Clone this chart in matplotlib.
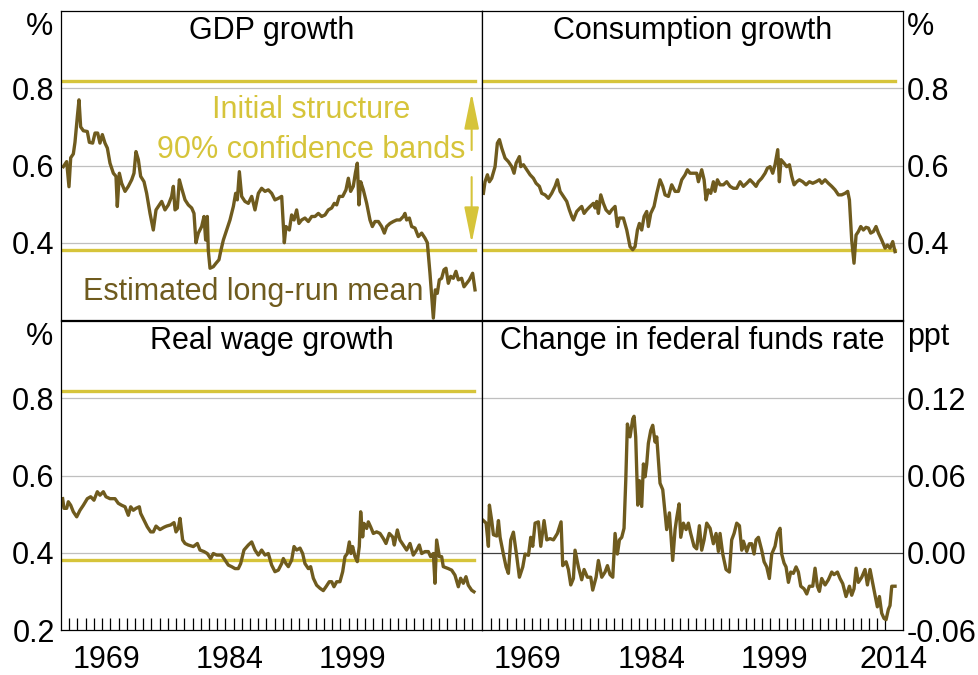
import numpy as np
import matplotlib
matplotlib.use("Agg")
import matplotlib.pyplot as plt

plt.rcParams['font.family'] = ['Liberation Sans', 'DejaVu Sans']

LINE = '#6f5b1e'
YELLOW = '#d6c43a'
GRID = '#bfbfbf'
FS = 22

# (year, value) readings of each series
gdp = [(1964.28,0.597),(1964.69,0.61),(1964.97,0.545),(1965.18,0.62),(1965.50,0.63),(1965.70,0.66),(1965.99,0.727),(1966.19,0.77),(1966.39,0.70),(1966.72,0.69),(1967.20,0.688),(1967.45,0.66),(1967.85,0.658),(1968.14,0.684),(1968.46,0.684),(1968.74,0.658),(1969.03,0.68),(1969.35,0.658),(1969.64,0.645),(1969.96,0.606),(1970.37,0.58),(1970.69,0.572),(1970.85,0.494),(1971.10,0.58),(1971.38,0.554),(1971.79,0.533),(1972.19,0.546),(1972.60,0.563),(1972.88,0.58),(1973.12,0.636),(1973.41,0.615),(1973.69,0.572),(1974.10,0.558),(1974.42,0.528),(1974.83,0.476),(1975.23,0.433),(1975.56,0.485),(1975.84,0.494),(1976.25,0.507),(1976.65,0.485),(1977.06,0.498),(1977.46,0.52),(1977.67,0.546),(1977.87,0.485),(1978.15,0.49),(1978.40,0.563),(1978.68,0.541),(1979.09,0.511),(1979.49,0.498),(1979.90,0.49),(1980.18,0.476),(1980.42,0.40),(1980.71,0.425),(1981.11,0.442),(1981.40,0.468),(1981.60,0.407),(1981.80,0.468),(1981.92,0.38),(1982.13,0.334),(1982.53,0.338),(1982.86,0.347),(1983.22,0.356),(1983.42,0.377),(1983.75,0.407),(1984.15,0.433),(1984.56,0.459),(1984.97,0.494),(1985.25,0.528),(1985.45,0.511),(1985.70,0.584),(1985.98,0.52),(1986.38,0.507),(1986.79,0.502),(1987.20,0.52),(1987.60,0.485),(1988.01,0.528),(1988.41,0.541),(1988.82,0.533),(1989.22,0.537),(1989.63,0.528),(1990.03,0.511),(1990.44,0.515),(1990.85,0.52),(1991.17,0.40),(1991.37,0.442),(1991.78,0.433),(1992.06,0.472),(1992.35,0.459),(1992.67,0.485),(1992.95,0.45),(1993.28,0.459),(1993.68,0.464),(1994.09,0.455),(1994.50,0.468),(1994.90,0.468),(1995.31,0.476),(1995.71,0.468),(1996.12,0.472),(1996.52,0.485),(1996.93,0.49),(1997.25,0.502),(1997.54,0.498),(1997.86,0.52),(1998.27,0.52),(1998.67,0.537),(1998.96,0.567),(1999.24,0.533),(1999.56,0.546),(1999.81,0.58),(2000.05,0.606),(2000.25,0.498),(2000.46,0.558),(2000.78,0.537),(2001.19,0.502),(2001.59,0.459),(2001.88,0.442),(2002.20,0.455),(2002.61,0.455),(2003.01,0.442),(2003.34,0.425),(2003.62,0.442),(2004.02,0.45),(2004.43,0.455),(2004.84,0.459),(2005.24,0.459),(2005.65,0.468),(2005.85,0.476),(2006.05,0.459),(2006.38,0.464),(2006.66,0.442),(2007.07,0.438),(2007.47,0.416),(2007.88,0.425),(2008.28,0.412),(2008.57,0.40),(2008.89,0.321),(2009.30,0.205),(2009.54,0.278),(2009.78,0.269),(2010.03,0.304),(2010.31,0.308),(2010.59,0.33),(2010.84,0.334),(2011.12,0.295),(2011.41,0.313),(2011.73,0.308),(2012.05,0.326),(2012.34,0.304),(2012.74,0.308),(2013.03,0.286),(2013.35,0.295),(2013.68,0.304),(2014.08,0.321),(2014.37,0.278)]

consumption = [(1964.08,0.528),(1964.28,0.558),(1964.57,0.576),(1964.81,0.558),(1965.09,0.567),(1965.50,0.597),(1965.78,0.658),(1966.03,0.667),(1966.31,0.645),(1966.72,0.619),(1967.12,0.61),(1967.53,0.597),(1967.81,0.58),(1968.06,0.606),(1968.46,0.623),(1968.62,0.597),(1968.95,0.602),(1969.35,0.589),(1969.76,0.576),(1970.16,0.567),(1970.49,0.554),(1970.89,0.546),(1971.18,0.528),(1971.58,0.524),(1971.99,0.515),(1972.39,0.528),(1972.80,0.546),(1973.08,0.563),(1973.41,0.533),(1973.81,0.52),(1974.22,0.507),(1974.54,0.485),(1974.83,0.468),(1975.03,0.459),(1975.44,0.481),(1975.84,0.49),(1976.04,0.494),(1976.33,0.476),(1976.65,0.485),(1977.06,0.494),(1977.46,0.502),(1977.67,0.49),(1977.87,0.507),(1978.07,0.476),(1978.36,0.524),(1978.68,0.502),(1979.00,0.485),(1979.41,0.476),(1979.69,0.485),(1980.10,0.494),(1980.38,0.442),(1980.63,0.464),(1981.11,0.464),(1981.52,0.433),(1981.92,0.39),(1982.25,0.382),(1982.53,0.39),(1982.82,0.433),(1983.06,0.45),(1983.34,0.433),(1983.63,0.468),(1983.95,0.481),(1984.15,0.442),(1984.44,0.476),(1984.84,0.494),(1985.17,0.528),(1985.57,0.563),(1985.90,0.546),(1986.18,0.524),(1986.59,0.52),(1986.99,0.55),(1987.40,0.533),(1987.80,0.533),(1988.21,0.563),(1988.62,0.576),(1988.90,0.589),(1989.22,0.58),(1989.63,0.58),(1990.03,0.58),(1990.24,0.558),(1990.64,0.589),(1990.93,0.563),(1991.17,0.511),(1991.45,0.537),(1991.74,0.528),(1992.06,0.558),(1992.26,0.533),(1992.55,0.563),(1992.87,0.55),(1993.28,0.55),(1993.68,0.558),(1994.09,0.546),(1994.50,0.541),(1994.90,0.541),(1995.31,0.558),(1995.71,0.546),(1996.12,0.554),(1996.52,0.563),(1996.93,0.554),(1997.25,0.546),(1997.54,0.558),(1997.94,0.567),(1998.35,0.58),(1998.63,0.593),(1998.96,0.597),(1999.28,0.58),(1999.56,0.602),(1999.89,0.641),(2000.09,0.558),(2000.29,0.615),(2000.66,0.606),(2000.98,0.597),(2001.31,0.602),(2001.59,0.572),(2001.88,0.55),(2002.20,0.558),(2002.52,0.563),(2002.93,0.558),(2003.34,0.55),(2003.74,0.558),(2004.15,0.554),(2004.55,0.558),(2004.96,0.563),(2005.24,0.554),(2005.65,0.563),(2006.05,0.554),(2006.46,0.546),(2006.86,0.537),(2007.27,0.524),(2007.67,0.524),(2008.08,0.528),(2008.40,0.533),(2008.61,0.511),(2008.89,0.407),(2009.17,0.347),(2009.42,0.42),(2009.70,0.429),(2009.99,0.442),(2010.31,0.433),(2010.63,0.44),(2010.92,0.438),(2011.20,0.425),(2011.53,0.429),(2011.85,0.442),(2012.14,0.425),(2012.54,0.407),(2012.95,0.386),(2013.23,0.394),(2013.55,0.386),(2013.88,0.403),(2014.16,0.377)]

real_wage = [(1964.20,0.54),(1964.36,0.515),(1964.69,0.515),(1964.89,0.532),(1965.18,0.523),(1965.50,0.506),(1965.91,0.493),(1966.31,0.51),(1966.72,0.523),(1967.20,0.54),(1967.61,0.545),(1968.01,0.536),(1968.42,0.558),(1968.74,0.549),(1969.15,0.558),(1969.47,0.545),(1969.96,0.54),(1970.57,0.54),(1970.97,0.528),(1971.38,0.523),(1971.79,0.519),(1972.19,0.497),(1972.48,0.519),(1972.80,0.51),(1973.12,0.515),(1973.53,0.519),(1973.69,0.502),(1974.10,0.484),(1974.50,0.467),(1974.91,0.454),(1975.23,0.454),(1975.56,0.469),(1976.04,0.46),(1976.53,0.466),(1976.85,0.469),(1977.34,0.472),(1977.75,0.478),(1977.99,0.454),(1978.27,0.463),(1978.48,0.489),(1978.80,0.433),(1979.09,0.424),(1979.49,0.42),(1980.10,0.416),(1980.59,0.424),(1980.91,0.407),(1981.40,0.403),(1981.80,0.398),(1982.21,0.385),(1982.53,0.398),(1982.94,0.394),(1983.55,0.394),(1983.95,0.381),(1984.36,0.368),(1984.76,0.364),(1985.17,0.359),(1985.57,0.359),(1985.86,0.372),(1986.26,0.407),(1986.79,0.42),(1987.20,0.428),(1987.60,0.407),(1988.01,0.394),(1988.41,0.407),(1988.82,0.394),(1989.22,0.398),(1989.63,0.368),(1990.03,0.351),(1990.44,0.355),(1990.85,0.372),(1991.05,0.385),(1991.37,0.372),(1991.66,0.364),(1992.06,0.381),(1992.35,0.416),(1992.67,0.407),(1993.08,0.412),(1993.40,0.398),(1993.68,0.372),(1994.09,0.359),(1994.37,0.364),(1994.70,0.334),(1995.10,0.316),(1995.51,0.308),(1995.91,0.302),(1996.24,0.312),(1996.64,0.325),(1996.93,0.325),(1997.21,0.312),(1997.54,0.325),(1997.94,0.325),(1998.27,0.351),(1998.55,0.39),(1998.83,0.398),(1999.08,0.428),(1999.28,0.398),(1999.48,0.416),(1999.77,0.39),(2000.05,0.377),(2000.29,0.416),(2000.46,0.506),(2000.70,0.441),(2000.86,0.476),(2001.19,0.463),(2001.39,0.48),(2001.67,0.467),(2002.00,0.45),(2002.40,0.454),(2002.81,0.45),(2003.21,0.437),(2003.54,0.424),(2003.94,0.45),(2004.35,0.441),(2004.55,0.42),(2004.92,0.459),(2005.24,0.433),(2005.65,0.42),(2006.05,0.407),(2006.46,0.424),(2006.86,0.394),(2007.27,0.407),(2007.59,0.42),(2007.88,0.398),(2008.28,0.403),(2008.69,0.403),(2008.97,0.39),(2009.30,0.398),(2009.50,0.321),(2009.70,0.433),(2010.03,0.39),(2010.31,0.39),(2010.51,0.364),(2011.12,0.359),(2011.53,0.355),(2011.93,0.342),(2012.34,0.312),(2012.62,0.334),(2012.95,0.321),(2013.27,0.338),(2013.55,0.316),(2013.96,0.303),(2014.24,0.299)]

fed_funds = [(1964.08,0.025),(1964.41,0.023),(1964.69,0.005),(1964.81,0.037),(1965.09,0.025),(1965.30,0.014),(1965.70,0.013),(1965.91,0.025),(1966.11,0.012),(1966.51,-0.001),(1966.84,-0.011),(1967.12,-0.016),(1967.41,0.01),(1967.73,0.016),(1968.14,-0.003),(1968.46,-0.019),(1968.87,-0.011),(1969.15,-0.001),(1969.56,-0.002),(1969.84,0.012),(1970.08,0.005),(1970.37,0.023),(1970.77,0.024),(1971.06,0.005),(1971.46,0.025),(1971.79,0.01),(1972.19,0.011),(1972.60,0.01),(1973.08,0.015),(1973.53,0.024),(1973.73,-0.01),(1974.14,-0.007),(1974.42,-0.013),(1974.71,-0.025),(1975.03,-0.02),(1975.23,0.002),(1975.64,-0.011),(1976.04,-0.021),(1976.33,-0.013),(1976.73,-0.019),(1977.14,-0.019),(1977.38,-0.029),(1977.79,-0.019),(1978.07,-0.006),(1978.48,-0.019),(1978.88,-0.015),(1979.17,-0.01),(1979.49,-0.017),(1979.82,-0.019),(1980.10,0.015),(1980.38,-0.001),(1980.63,0.01),(1980.91,0.012),(1981.19,0.019),(1981.40,0.056),(1981.60,0.1),(1981.92,0.09),(1982.25,0.104),(1982.41,0.106),(1982.61,0.09),(1982.86,0.037),(1983.06,0.056),(1983.34,0.036),(1983.55,0.069),(1983.75,0.059),(1983.95,0.069),(1984.15,0.085),(1984.44,0.095),(1984.68,0.099),(1984.97,0.086),(1985.17,0.09),(1985.57,0.054),(1985.90,0.049),(1986.38,0.018),(1986.71,0.031),(1987.11,-0.006),(1987.40,0.018),(1987.60,0.027),(1987.89,0.038),(1988.09,0.012),(1988.41,0.023),(1988.74,0.018),(1989.02,0.023),(1989.30,0.015),(1989.71,0.005),(1990.03,0.003),(1990.36,0.021),(1990.64,0.002),(1990.93,0.01),(1991.25,0.023),(1991.66,0.019),(1992.06,0.007),(1992.39,0.015),(1992.67,0.001),(1992.87,0.015),(1993.20,-0.001),(1993.60,-0.013),(1994.01,-0.015),(1994.29,0.01),(1994.58,0.015),(1994.90,0.023),(1995.23,0.021),(1995.51,0.002),(1995.71,0.009),(1996.12,0.001),(1996.44,0.007),(1996.73,0.007),(1997.01,-0.001),(1997.25,0.01),(1997.54,0.012),(1997.94,0.002),(1998.23,-0.007),(1998.55,-0.011),(1998.87,-0.02),(1999.16,-0.001),(1999.56,0.005),(1999.85,0.015),(2000.17,0.019),(2000.37,-0.001),(2000.66,-0.008),(2000.90,-0.011),(2001.19,-0.023),(2001.47,-0.015),(2001.79,-0.016),(2002.12,-0.011),(2002.40,-0.015),(2002.69,-0.026),(2003.09,-0.028),(2003.42,-0.032),(2003.74,-0.026),(2004.15,-0.026),(2004.43,-0.012),(2004.71,-0.026),(2004.96,-0.03),(2005.24,-0.02),(2005.65,-0.025),(2006.05,-0.021),(2006.46,-0.015),(2006.74,-0.017),(2007.15,-0.015),(2007.47,-0.02),(2007.80,-0.024),(2008.20,-0.034),(2008.61,-0.026),(2008.89,-0.033),(2009.17,-0.028),(2009.42,-0.012),(2009.70,-0.023),(2010.11,-0.019),(2010.51,-0.013),(2010.80,-0.025),(2011.12,-0.013),(2011.45,-0.024),(2011.73,-0.033),(2012.01,-0.042),(2012.26,-0.034),(2012.54,-0.047),(2012.82,-0.051),(2013.07,-0.052),(2013.35,-0.044),(2013.55,-0.041),(2013.76,-0.026),(2014.16,-0.026)]

band_upper = 0.82
band_lower = 0.38

titles = ['GDP growth', 'Consumption growth', 'Real wage growth', 'Change in federal funds rate']
units = ['%', '%', '%', 'ppt']
year_labels_left = ['1969', '1984', '1999']
year_labels_right = ['1969', '1984', '1999', '2014']
year_pos_left = [1969.5, 1984.5, 1999.5]
year_pos_right = [1969.5, 1984.5, 1999.5, 2014.0]
pct_ticks_top = [0.4, 0.6, 0.8]
pct_ticks_bottom = [0.2, 0.4, 0.6, 0.8]
ppt_ticks = [-0.06, 0.0, 0.06, 0.12]
ppt_labels = ['-0.06', '0.00', '0.06', '0.12']

W, H = 979, 675
fig = plt.figure(figsize=(W / 100, H / 100), dpi=100)


def px_axes(x0, y0, x1, y1):
    return fig.add_axes([x0 / W, 1 - y1 / H, (x1 - x0) / W, (y1 - y0) / H])


ax_gdp = px_axes(61, 11, 482, 320)
ax_con = px_axes(482, 11, 903, 320)
ax_wage = px_axes(61, 321, 482, 630)
ax_ff = px_axes(482, 321, 903, 630)
axes = [ax_gdp, ax_con, ax_wage, ax_ff]
series = [gdp, consumption, real_wage, fed_funds]

for i, (ax, data) in enumerate(zip(axes, series)):
    yrs = np.array([d[0] for d in data])
    vals = np.array([d[1] for d in data])
    right = i % 2 == 1
    bottom = i >= 2
    if right:
        ax.set_xlim(1963.91, 2015.13)
    else:
        ax.set_xlim(1964.0, 2015.22)

    if i == 3:
        ax.set_ylim(-0.06, 0.18)
        ax.set_yticks(ppt_ticks)
        ax.set_yticklabels(ppt_labels)
        for v in ppt_ticks[1:]:
            ax.axhline(v, color='#404040' if v == 0 else GRID, lw=0.9, zorder=1)
    else:
        ax.set_ylim(0.2, 1.0)
        ticks = pct_ticks_bottom if bottom else pct_ticks_top
        ax.set_yticks(ticks)
        ax.set_yticklabels([f'{t:.1f}' for t in ticks])
        for v in [0.4, 0.6, 0.8]:
            ax.axhline(v, color=GRID, lw=0.9, zorder=1)
        ax.plot([yrs[0], yrs[-1]], [band_upper, band_upper], color=YELLOW, lw=2.4, zorder=2)
        ax.plot([yrs[0], yrs[-1]], [band_lower, band_lower], color=YELLOW, lw=2.4, zorder=2)

    ax.plot(yrs, vals, color=LINE, lw=2.4, zorder=3)

    if right:
        ax.yaxis.tick_right()
        ax.tick_params(axis='y', length=0, pad=2.5, labelsize=FS)
        ax.text(1.0095, 1 - 24 / 309, units[i], transform=ax.transAxes,
                ha='left', va='baseline', fontsize=FS)
    else:
        ax.tick_params(axis='y', length=0, pad=4.5, labelsize=FS)
        ax.text(-0.019, 1 - 24 / 309, units[i], transform=ax.transAxes,
                ha='right', va='baseline', fontsize=FS)

    ax.text(0.5, 1 - 28.5 / 309, titles[i], transform=ax.transAxes,
            ha='center', va='baseline', fontsize=FS)

    if bottom:
        ax.set_xticks(year_pos_right if right else year_pos_left)
        ax.set_xticklabels(year_labels_right if right else year_labels_left)
        ax.set_xticks(np.arange(1965, 2015), minor=True)
        ax.tick_params(axis='x', which='major', length=0, pad=11, labelsize=FS)
        ax.tick_params(axis='x', which='minor', direction='in', length=8.6,
                       width=0.9, color='black')
    else:
        ax.set_xticks([])

    for s in ax.spines.values():
        s.set_linewidth(0.9)
        s.set_color('black')
        s.set_zorder(5)

# annotations in the GDP panel
ax_gdp.text(1994.4, 0.744, 'Initial structure', color=YELLOW, fontsize=FS,
            ha='center', va='center')
ax_gdp.text(1994.4, 0.64, '90% confidence bands', color=YELLOW, fontsize=FS,
            ha='center', va='center')
ax_gdp.text(1987.4, 0.272, 'Estimated long-run mean', color=LINE, fontsize=FS,
            ha='center', va='center')
arrow = dict(arrowstyle='-|>,head_length=2.2,head_width=0.45', color=YELLOW,
             lw=1.5, mutation_scale=10, shrinkA=0, shrinkB=0)
ax_gdp.annotate('', xy=(2013.96, 0.788), xytext=(2013.96, 0.64), arrowprops=arrow)
ax_gdp.annotate('', xy=(2013.96, 0.399), xytext=(2013.96, 0.57), arrowprops=arrow)

fig.savefig('out.png', dpi=100)
